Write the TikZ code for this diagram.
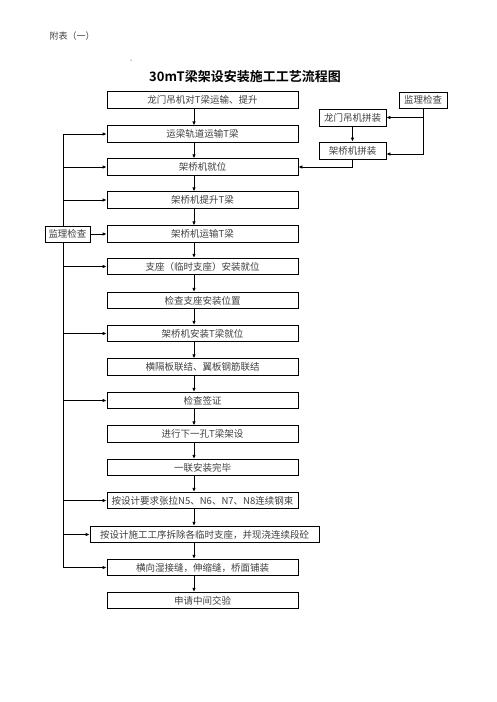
\documentclass[tikz,border=0pt]{standalone}
\usepackage{fontspec}
\setmainfont{Noto Sans CJK SC}[BoldFont={Noto Sans CJK SC Bold}]
\usetikzlibrary{arrows.meta}
\definecolor{txt}{HTML}{404040}
\tikzset{
  box/.style={draw=black, line width=0.8pt, fill=white, minimum height=16.5pt, inner sep=0pt,
    font=\fontsize{9.5}{11}\selectfont, text=txt},
  mainbox/.style={box, minimum width=191pt},
  arr/.style={line width=0.8pt, -{Latex[length=4pt,width=3.6pt]}},
  ln/.style={line width=0.8pt}
}
\begin{document}
\begin{tikzpicture}[x=1pt,y=-1pt]
\useasboundingbox (0,0) rectangle (496,702);
\node[text=txt, font=\fontsize{9}{10}\selectfont, anchor=west] (hdr) at (46,36) {附表（一）};
\node[fill=black, circle, inner sep=0pt, minimum size=1pt] (dot) at (131,60) {};
\node[font=\fontsize{13}{15}\selectfont\bfseries] (title) at (245,77) {30mT梁架设安装施工工艺流程图};

\coordinate (cx) at (194,0);
\coordinate (L) at (63,0);

\node[mainbox] (b1) at (202.5,100) {龙门吊机对T梁运输、提升};
\node[mainbox] (b2) at (202.5,134) {运梁轨道运输T梁};
\node[mainbox] (b3) at (202.5,167) {架桥机就位};
\node[mainbox] (b4) at (202.5,200) {架桥机提升T梁};
\node[mainbox] (b5) at (202.5,234) {架桥机运输T梁};
\node[mainbox] (b6) at (202.5,266.5) {支座（临时支座）安装就位};
\node[mainbox] (b7) at (202.5,300.5) {检查支座安装位置};
\node[mainbox] (b8) at (202.5,333.5) {架桥机安装T梁就位};
\node[mainbox] (b9) at (202.5,367) {横隔板联结、翼板钢筋联结};
\node[mainbox] (b10) at (202.5,400.5) {检查签证};
\node[mainbox] (b11) at (202.5,434) {进行下一孔T梁架设};
\node[mainbox] (b12) at (202.5,467.5) {一联安装完毕};
\node[mainbox] (b13) at (202.5,500.5) {按设计要求张拉N5、N6、N7、N8连续钢束};
\node[box, minimum width=229pt] (b14) at (204.5,534.5) {按设计施工工序拆除各临时支座，并现浇连续段砼};
\node[mainbox] (b15) at (202.5,567.5) {横向湿接缝，伸缩缝，桥面铺装};
\node[mainbox] (b16) at (202.5,600.5) {申请中间交验};

\foreach \a/\b in {b1/b2,b2/b3,b3/b4,b4/b5,b5/b6,b6/b7,b7/b8,b8/b9,b9/b10,b10/b11,b11/b12,b12/b13,b13/b14,b14/b15,b15/b16}
  \draw[arr] (\a.south -| cx) -- (\b.north -| cx);

% left supervision
\node[box, minimum width=45pt, minimum height=16pt] (jl) at (67.5,234) {监理检查};
\draw[ln] (jl.north -| L) -- (L |- b2);
\draw[ln] (jl.south -| L) -- (L |- b15);
\foreach \t in {b2,b3,b4,b6,b8,b10,b13,b14,b15}
  \draw[arr] (L |- \t) -- (\t.west);
\draw[arr] (jl.east) -- (b5.west);

% right side
\node[box, minimum width=48pt, minimum height=16pt] (jr) at (423,100) {监理检查};
\node[box, minimum width=67pt, minimum height=17pt] (lm) at (352.5,117.5) {龙门吊机拼装};
\node[box, minimum width=67pt, minimum height=17pt] (jq) at (352.5,150.5) {架桥机拼装};
\coordinate (jqin) at ([yshift=-3.5pt]jq.east);
\draw[arr] (jr.south) |- (jqin);
\draw[arr] (jr.south |- lm.east) -- (lm.east);
\draw[arr] (lm.south) -- (jq.north);
\draw[arr] (jq.south) |- (b3.east);
\end{tikzpicture}
\end{document}
